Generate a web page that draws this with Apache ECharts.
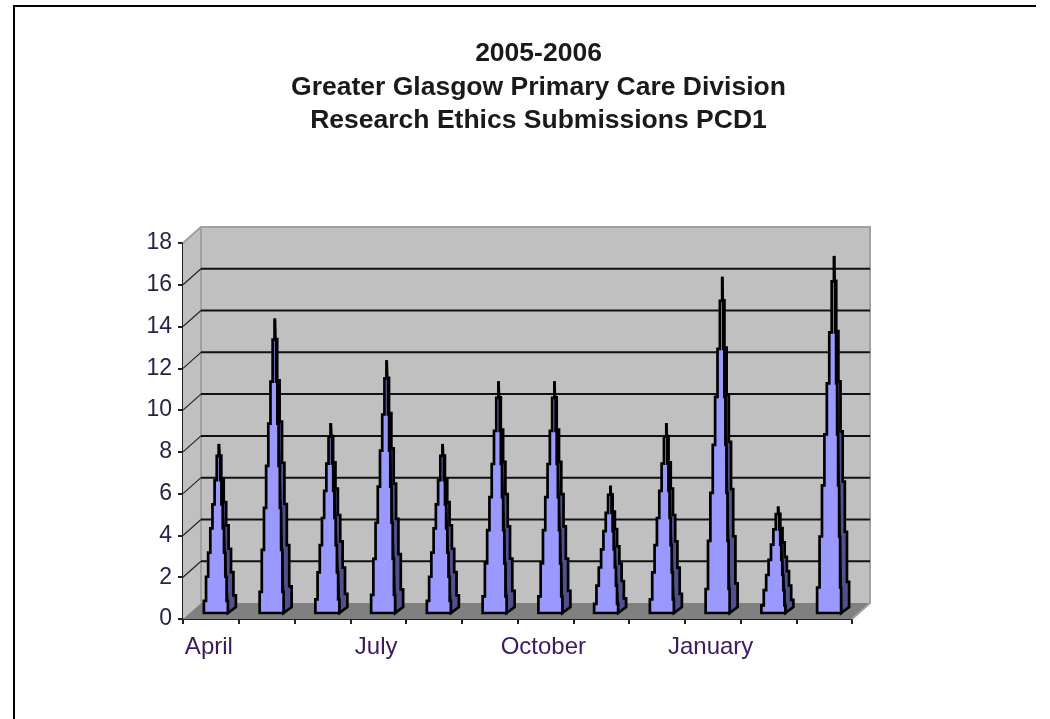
<!DOCTYPE html>
<html><head><meta charset="utf-8">
<style>html,body{margin:0;padding:0;background:#fff}#c{width:1050px;height:719px}</style>
<script src="https://cdn.jsdelivr.net/npm/echarts@6/dist/echarts.min.js"></script>
</head><body><div id="c"></div>
<script>
const months = ['April','May','June','July','August','September','October','November','December','January','February','March'];
const shownMonths = ['April','July','October','January'];
const submissions = [8,14,9,12,8,11,11,6,9,16,5,17];
const yTicks = [0,2,4,6,8,10,12,14,16,18];
const titleLines = ['2005-2006','Greater Glasgow Primary Care Division','Research Ethics Submissions PCD1'];

const DX = 18, DY = -16, STEPS = 7;
const chart = echarts.init(document.getElementById('c'), null, {renderer:'canvas'});

function renderWalls(params, api){
  const [xa, xb] = [params.coordSys.x, params.coordSys.x + params.coordSys.width];
  const y0 = api.coord([0,0])[1];
  const yTop = params.coordSys.y;
  const kids = [];
  const poly = (points, fill)=>kids.push({type:'polygon',shape:{points},style:{fill,stroke:null,lineWidth:0}});
  poly([[xa,yTop],[xa+DX,yTop+DY],[xa+DX,y0+DY],[xa,y0]],'#c0c0c0');
  poly([[xa+DX,yTop+DY],[xb+DX,yTop+DY],[xb+DX,y0+DY],[xa+DX,y0+DY]],'#c0c0c0');
  poly([[xa,y0],[xa+DX,y0+DY],[xb+DX,y0+DY],[xb,y0]],'#808080');
  kids.push({type:'polyline',shape:{points:[[xa,yTop],[xa+DX,yTop+DY],[xb+DX,yTop+DY],[xb+DX,y0+DY],[xb,y0]]},style:{fill:null,stroke:'#a0a0a0',lineWidth:2}});
  kids.push({type:'line',shape:{x1:xa+DX,y1:yTop+DY,x2:xa+DX,y2:y0+DY},style:{stroke:'#a0a0a0',lineWidth:2}});
  yTicks.forEach(v=>{
    if(v===0||v===18) return;
    const y = api.coord([0,v])[1];
    kids.push({type:'polyline',shape:{points:[[xa,y],[xa+DX,y+DY]]},style:{fill:null,stroke:'#222',lineWidth:1.2}});
    kids.push({type:'line',shape:{x1:xa+DX,y1:y+DY,x2:xb+DX,y2:y+DY},style:{stroke:'#111',lineWidth:2}});
  });
  return {type:'group',children:kids};
}

function renderCone(params, api){
  const idx = api.value(0), v = api.value(1);
  const c = api.coord([idx,v]);
  const y0 = api.coord([idx,0])[1];
  const cx = c[0];
  const base = y0 - 6, apexY = c[1] - 8;
  const L = cx - 7, R = cx + 17, SR = cx + 25, A = cx + 8 + idx*0.18;
  const lerp = (a,b,t)=>a+(b-a)*t;
  function edge(xBase, yBase){
    const pts = [];
    const h = yBase - apexY;
    for(let k=0;k<=STEPS;k++){
      const x = lerp(xBase,A,k/STEPS);
      const yStart = k===0 ? yBase : yBase - h*(k-0.5)/STEPS;
      const yEnd = k===STEPS ? apexY : yBase - h*(k+0.5)/STEPS;
      pts.push([x,yStart],[x,yEnd]);
    }
    return pts;
  }
  const st = {stroke:'#000',lineWidth:2.7,lineJoin:'miter'};
  const leftEdge = edge(L,base), rightEdge = edge(R,base), sideEdge = edge(SR,base-6);
  return {type:'group',children:[
    {type:'polygon',shape:{points:[[R,base],...sideEdge]},style:{fill:'#50508a',...st}},
    {type:'polygon',shape:{points:[...leftEdge,...rightEdge.slice().reverse()]},style:{fill:'#9999ff',...st}}
  ]};
}

chart.setOption({
  animation:false,
  backgroundColor:'#fff',
  title:{text:titleLines.join('\n'),left:533.5,top:32,textAlign:'center',
    textStyle:{fontFamily:'Liberation Sans',fontWeight:'bold',fontSize:26.5,lineHeight:33.5,color:'#1a1a1a'}},
  grid:{left:183,right:198,top:243,bottom:100,containLabel:false},
  xAxis:{type:'category',data:months,boundaryGap:true,
    axisLine:{lineStyle:{color:'#222',width:2}},
    axisTick:{show:true,alignWithLabel:false,length:5,lineStyle:{color:'#222',width:2}},
    axisLabel:{interval:0,margin:16,fontFamily:'Liberation Sans',fontSize:24,color:'#3d1a5c',padding:[0,4,0,0],
      formatter:s=>shownMonths.includes(s)?s:''},
    splitLine:{show:false}},
  yAxis:{type:'value',min:0,max:18,interval:2,
    axisLine:{show:true,lineStyle:{color:'#222',width:2}},
    axisTick:{show:true,length:5,lineStyle:{color:'#222',width:2}},
    axisLabel:{margin:11,fontFamily:'Liberation Sans',fontSize:23,color:'#2a2340',padding:[0,0,2,0]},
    splitLine:{show:false}},
  graphic:[
    {type:'polyline',silent:true,z:100,shape:{points:[[14,719],[14,6],[1036,6]]},style:{fill:null,stroke:'#000',lineWidth:2}}
  ],
  series:[
    {type:'custom',name:'walls',z:1,silent:true,clip:false,coordinateSystem:'cartesian2d',renderItem:renderWalls,data:[[0,0]]},
    {type:'custom',name:'PCD1',z:2,clip:false,coordinateSystem:'cartesian2d',renderItem:renderCone,
      encode:{x:0,y:1},data:submissions.map((v,i)=>[i,v])}
  ]
});
</script></body></html>
